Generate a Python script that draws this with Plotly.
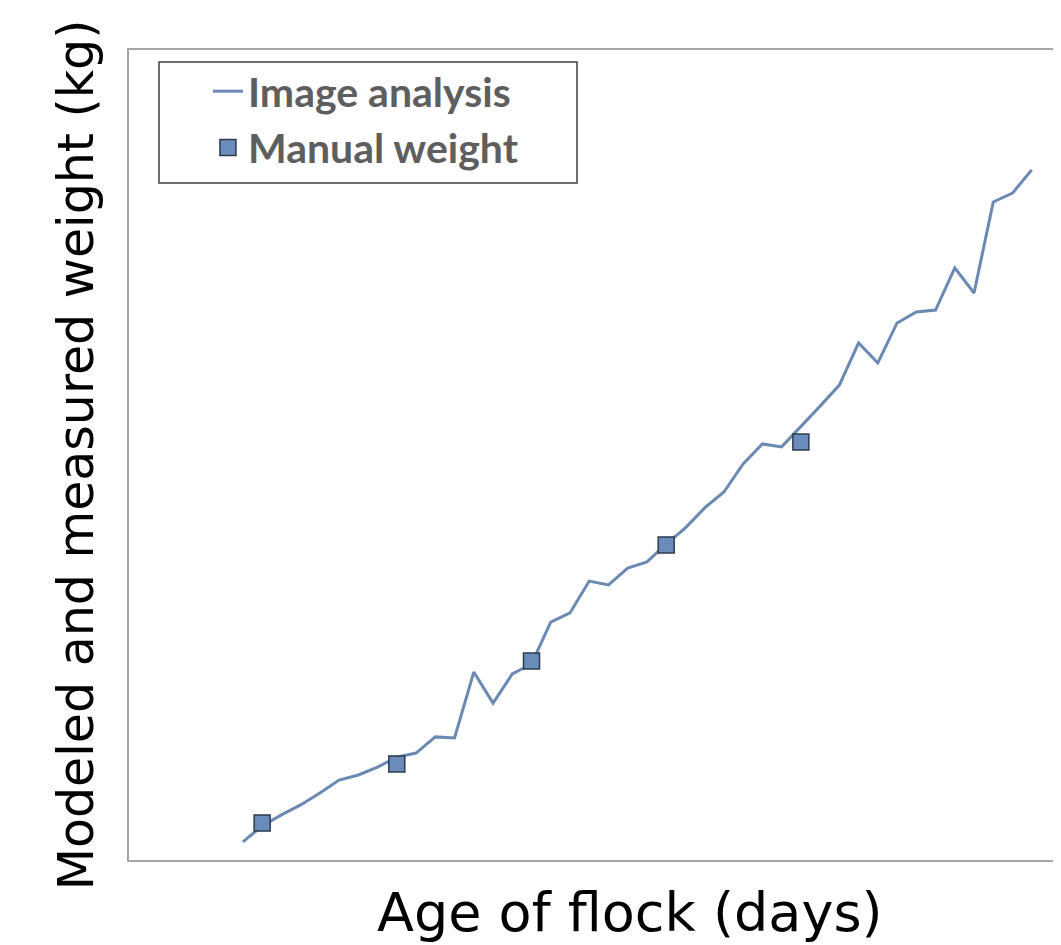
import plotly.graph_objects as go

# Age of flock (days) for the image-analysis series
days = list(range(0, 42))
# Modeled weight from image analysis (kg, estimated; no tick labels in original)
image_weight = [0.067, 0.126, 0.167, 0.204, 0.248, 0.296, 0.315, 0.344, 0.381, 0.396,
                0.456, 0.452, 0.696, 0.581, 0.689, 0.726, 0.881, 0.915, 1.033, 1.019,
                1.081, 1.104, 1.170, 1.230, 1.304, 1.363, 1.467, 1.541, 1.530, 1.604,
                1.681, 1.759, 1.915, 1.841, 1.989, 2.030, 2.037, 2.193, 2.100, 2.437,
                2.470, 2.556]
# Manual weighings
manual_days = [1, 8, 15, 22, 29]
manual_weight = [0.137, 0.356, 0.737, 1.167, 1.548]

x_title = "Age of flock (days)"
y_title = "Modeled and measured weight (kg)"

line_color = "#6a89b3"

fig = go.Figure()
fig.add_trace(go.Scatter(
    x=days, y=image_weight, mode="lines", name="Image analysis",
    line=dict(color=line_color, width=3),
))
fig.add_trace(go.Scatter(
    x=manual_days, y=manual_weight, mode="markers", name="Manual weight",
    marker=dict(symbol="square", size=16, color="#6a8cba",
                line=dict(color="#2c3a4e", width=1.5)),
))

# legend frame
fig.add_shape(type="rect", xref="paper", yref="paper",
              x0=0.0322, x1=0.4807, y0=0.8358, y1=0.9852,
              line=dict(color="#404040", width=1.5), fillcolor="white",
              layer="above")

# x-axis title (centred on the original, wider plot area)
fig.add_annotation(text=x_title, xref="paper", yref="paper",
                   x=0.5376, y=0, xanchor="center", yanchor="bottom",
                   yshift=-85, showarrow=False, borderpad=0,
                   font=dict(family="DejaVu Sans", size=54, color="black"))

fig.update_layout(
    width=1053, height=937,
    margin=dict(l=121, r=0, t=42, b=85),
    paper_bgcolor="white", plot_bgcolor="white",
    showlegend=True,
    legend=dict(
        x=0.0847, y=0.9901, xanchor="left", yanchor="top",
        bgcolor="rgba(0,0,0,0)", borderwidth=0,
        font=dict(family="Lato", size=41, color="#5e5e5e", weight="bold"),
        itemwidth=30, tracegroupgap=0,
    ),
    xaxis=dict(
        range=[-5.92, 42.52], showgrid=False, zeroline=False,
        showticklabels=False, ticks="",
        showline=True, linecolor="#a6a6a6", linewidth=2, mirror=True,
    ),
    yaxis=dict(
        range=[0, 3.0], showgrid=False, zeroline=False,
        showticklabels=False, ticks="",
        showline=True, linecolor="#a6a6a6", linewidth=2,
        title=dict(text=y_title, standoff=18,
                   font=dict(family="DejaVu Sans", size=49, color="black")),
    ),
)

fig.write_html("out.html")
